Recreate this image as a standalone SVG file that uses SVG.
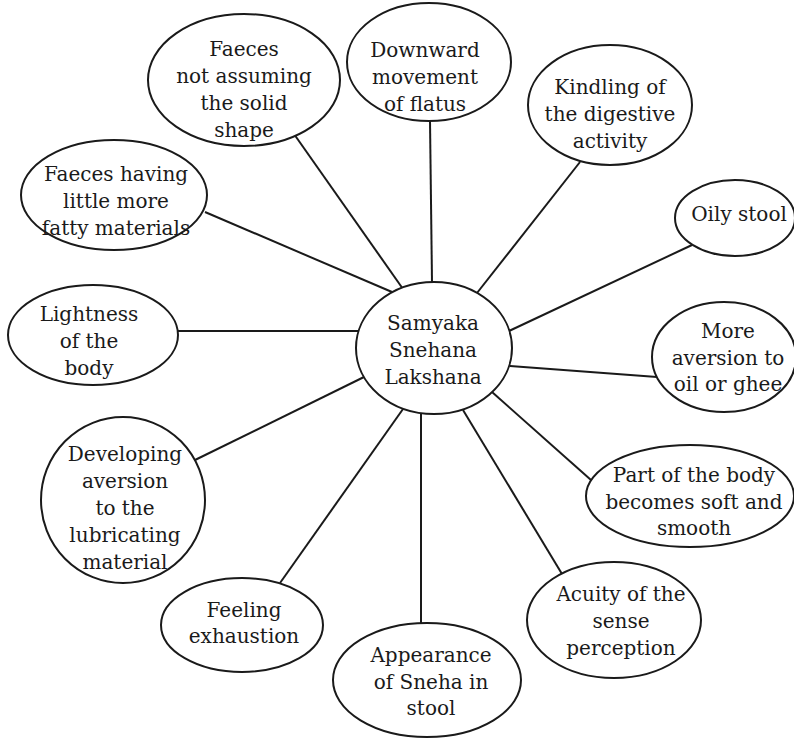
<svg xmlns="http://www.w3.org/2000/svg" width="794" height="738" viewBox="0 0 794 738">
  <style>
    .node ellipse { fill: #ffffff; stroke: #1a1a1a; stroke-width: 2; }
    .node text { font-family: "DejaVu Serif", serif; font-size: 20px; fill: #1a1a1a; text-anchor: middle; }
    #connectors line { stroke: #1a1a1a; stroke-width: 2; }
  </style>
  <rect width="794" height="738" fill="#ffffff"/>

  <!-- spokes from the central node to each outer node -->
  <g id="connectors">
    <line x1="294" y1="134" x2="403" y2="289"/>
    <line x1="430" y1="121" x2="432" y2="282"/>
    <line x1="580" y1="162" x2="477" y2="293"/>
    <line x1="205" y1="212" x2="392" y2="292"/>
    <line x1="692" y1="245" x2="509" y2="331"/>
    <line x1="657" y1="377" x2="510" y2="366"/>
    <line x1="178" y1="331" x2="360" y2="331"/>
    <line x1="195" y1="460" x2="364" y2="377"/>
    <line x1="591" y1="480" x2="492" y2="392"/>
    <line x1="280" y1="583" x2="403" y2="409"/>
    <line x1="421" y1="623" x2="421" y2="413"/>
    <line x1="562" y1="574" x2="463" y2="410"/>
  </g>

  <g id="center" class="node">
    <ellipse cx="434" cy="348" rx="78" ry="66"/>
    <text x="433" y="330">Samyaka</text>
    <text x="433" y="357">Snehana</text>
    <text x="433" y="384">Lakshana</text>
  </g>

  <g id="faeces-shape" class="node">
    <ellipse cx="244" cy="80" rx="96" ry="66"/>
    <text x="244" y="56">Faeces</text>
    <text x="244" y="83">not assuming</text>
    <text x="244" y="110">the solid</text>
    <text x="244" y="137">shape</text>
  </g>

  <g id="flatus" class="node">
    <ellipse cx="429" cy="62" rx="82" ry="59"/>
    <text x="425" y="57">Downward</text>
    <text x="425" y="84">movement</text>
    <text x="425" y="111">of flatus</text>
  </g>

  <g id="kindling" class="node">
    <ellipse cx="610" cy="105" rx="82" ry="60"/>
    <text x="610" y="94">Kindling of</text>
    <text x="610" y="121">the digestive</text>
    <text x="610" y="148">activity</text>
  </g>

  <g id="faeces-fatty" class="node">
    <ellipse cx="114" cy="195" rx="93" ry="55"/>
    <text x="116" y="181">Faeces having</text>
    <text x="116" y="208">little more</text>
    <text x="116" y="235">fatty materials</text>
  </g>

  <g id="oily-stool" class="node">
    <ellipse cx="735" cy="218" rx="60" ry="38"/>
    <text x="739" y="221">Oily stool</text>
  </g>

  <g id="aversion-oil" class="node">
    <ellipse cx="724" cy="357" rx="72" ry="55"/>
    <text x="728" y="338">More</text>
    <text x="728" y="365">aversion to</text>
    <text x="728" y="391">oil or ghee</text>
  </g>

  <g id="lightness" class="node">
    <ellipse cx="93" cy="335" rx="85" ry="50"/>
    <text x="89" y="321">Lightness</text>
    <text x="89" y="348">of the</text>
    <text x="89" y="375">body</text>
  </g>

  <g id="developing-aversion" class="node">
    <ellipse cx="123" cy="500" rx="82" ry="83"/>
    <text x="125" y="461">Developing</text>
    <text x="125" y="488">aversion</text>
    <text x="125" y="515">to the</text>
    <text x="125" y="542">lubricating</text>
    <text x="125" y="569">material</text>
  </g>

  <g id="soft-smooth" class="node">
    <ellipse cx="690" cy="496" rx="104" ry="51"/>
    <text x="694" y="482">Part of the body</text>
    <text x="694" y="509">becomes soft and</text>
    <text x="694" y="535">smooth</text>
  </g>

  <g id="exhaustion" class="node">
    <ellipse cx="242" cy="625" rx="81" ry="47"/>
    <text x="244" y="617">Feeling</text>
    <text x="244" y="643">exhaustion</text>
  </g>

  <g id="sneha-stool" class="node">
    <ellipse cx="427" cy="680" rx="94" ry="57"/>
    <text x="431" y="662">Appearance</text>
    <text x="431" y="689">of Sneha in</text>
    <text x="431" y="715">stool</text>
  </g>

  <g id="sense-acuity" class="node">
    <ellipse cx="614" cy="620" rx="87" ry="58"/>
    <text x="621" y="601">Acuity of the</text>
    <text x="621" y="628">sense</text>
    <text x="621" y="655">perception</text>
  </g>
</svg>
